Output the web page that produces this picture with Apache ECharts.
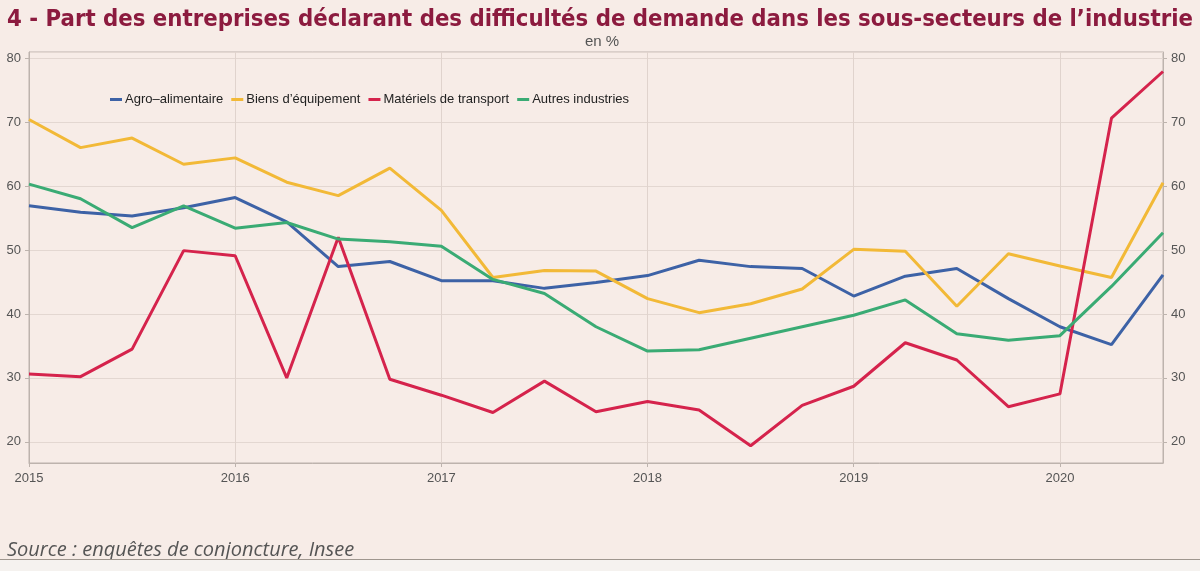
<!DOCTYPE html>
<html lang="fr">
<head>
    <meta charset="UTF-8">
    <script src="https://cdn.jsdelivr.net/npm/echarts@6/dist/echarts.min.js"></script>
    <style>
        html, body {
            margin: 0;
            padding: 0;
            background: #f5f2ef;
        }
        #chart {
            width: 1200px;
            height: 559px;
            background: #f7ece7;
            border-bottom: 1px solid #9f968e;
        }
    </style>
    <title>Difficultés de demande</title>
</head>
<body>
    <div id="chart"></div>
</body>
</html>
<script type="text/javascript">
    // trimestres 2015T1 - 2020T3
    var quarters = ['2015T1','2015T2','2015T3','2015T4','2016T1','2016T2','2016T3','2016T4',
        '2017T1','2017T2','2017T3','2017T4','2018T1','2018T2','2018T3','2018T4',
        '2019T1','2019T2','2019T3','2019T4','2020T1','2020T2','2020T3'];

    var agro = [56.9, 55.9, 55.3, 56.6, 58.2, 54.4, 47.4, 48.2, 45.2, 45.2, 44.0, 44.9,
        46.0, 48.4, 47.4, 47.1, 42.8, 45.9, 47.1, 42.4, 38.0, 35.2, 46.1];
    var biens = [70.4, 66.0, 67.5, 63.4, 64.4, 60.6, 58.5, 62.8, 56.2, 45.7, 46.8, 46.7,
        42.4, 40.2, 41.6, 43.9, 50.1, 49.8, 41.2, 49.4, 47.5, 45.7, 60.5];
    var transport = [30.6, 30.2, 34.5, 49.9, 49.1, 30.0, 52.0, 29.8, 27.3, 24.6, 29.5, 24.7,
        26.3, 25.0, 19.4, 25.7, 28.7, 35.5, 32.8, 25.5, 27.5, 70.6, 77.9];
    var autres = [60.3, 58.0, 53.5, 56.9, 53.4, 54.3, 51.7, 51.3, 50.6, 45.4, 43.2, 38.0,
        34.2, 34.4, 36.2, 38.0, 39.8, 42.2, 36.9, 35.9, 36.6, 44.3, 52.7];

    var seriesNames = ['Agro\u2013alimentaire', 'Biens d\u2019\u00e9quipement', 'Mat\u00e9riels de transport', 'Autres industries'];
    var seriesColors = ['#3d62a6', '#f2b937', '#d5234c', '#3aab74'];

    var chartDom = document.getElementById('chart');
    var myChart = echarts.init(chartDom);
    var option;

    function yearOnly(i) {
        return i % 4 === 0;
    }

    var yAxisBase = {
        type: 'value',
        min: 16.7,
        max: 80.95,
        splitNumber: 6,
        axisLine: {show: true, lineStyle: {color: '#bdb3ad'}},
        axisTick: {show: true, length: 4, lineStyle: {color: '#bdb3ad'}},
        axisLabel: {
            color: '#555',
            fontSize: 13,
            fontFamily: 'Liberation Sans',
            showMinLabel: false,
            showMaxLabel: false
        },
        splitLine: {show: true, lineStyle: {color: '#e3d7d1'}}
    };

    option = {
        backgroundColor: '#f7ece7',
        animation: false,
        title: [
            {
                text: '4 - Part des entreprises d\u00e9clarant des difficult\u00e9s de demande dans les sous-secteurs de l\u2019industrie',
                left: 'center',
                top: 3,
                textStyle: {
                    color: '#8c1b3f',
                    fontSize: 23.7,
                    fontWeight: 'bold',
                    fontFamily: 'DejaVu Sans Condensed'
                }
            },
            {
                text: 'en %',
                left: 580,
                top: 29,
                textStyle: {color: '#555', fontSize: 15, fontWeight: 'normal', fontFamily: 'Liberation Sans'}
            },
            {
                text: 'Source : enqu\u00eates de conjoncture, Insee',
                left: 2,
                top: 535,
                textStyle: {color: '#555', fontSize: 20, fontWeight: 'normal', fontStyle: 'italic', fontFamily: 'Open Sans'}
            }
        ],
        legend: {
            left: 105,
            top: 88,
            itemWidth: 12,
            itemHeight: 3,
            itemGap: 8,
            icon: 'rect',
            textStyle: {color: '#222', fontSize: 13, fontFamily: 'Liberation Sans', padding: [0, 0, 0, -2]},
            data: seriesNames
        },
        grid: {
            left: 29,
            right: 37,
            top: 52,
            bottom: 96,
            show: true,
            borderColor: '#bdb3ad',
            containLabel: false
        },
        xAxis: {
            type: 'category',
            data: quarters,
            boundaryGap: false,
            axisLine: {show: true, lineStyle: {color: '#bdb3ad'}},
            axisTick: {show: true, interval: yearOnly, length: 4, lineStyle: {color: '#bdb3ad'}},
            axisLabel: {
                interval: yearOnly,
                color: '#555',
                fontSize: 13,
                fontFamily: 'Liberation Sans',
                margin: 9,
                formatter: function (v) { return v.substring(0, 4); }
            },
            splitLine: {show: true, interval: yearOnly, lineStyle: {color: '#e0d3cd'}}
        },
        yAxis: [
            Object.assign({position: 'left'}, yAxisBase),
            Object.assign({position: 'right'}, yAxisBase)
        ],
        series: [agro, biens, transport, autres].map(function (d, k) {
            return {
                name: seriesNames[k],
                type: 'line',
                data: d,
                yAxisIndex: 0,
                symbol: 'none',
                color: seriesColors[k],
                lineStyle: {width: 3, color: seriesColors[k]}
            };
        })
    };
    option && myChart.setOption(option);
</script>
